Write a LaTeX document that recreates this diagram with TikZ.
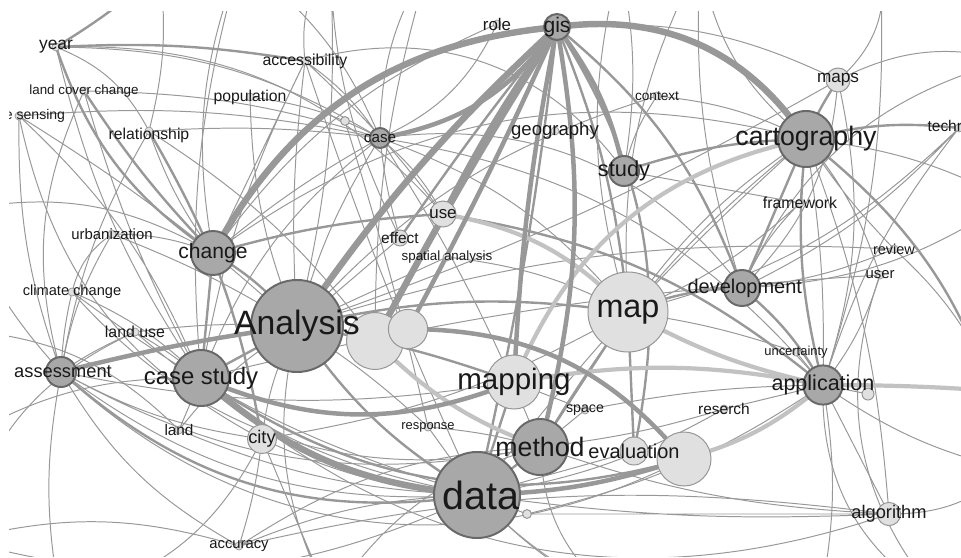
\documentclass[tikz,border=0pt]{standalone}
\usepackage{fontspec}
\setmainfont{Liberation Sans}
\usetikzlibrary{backgrounds}

\definecolor{edgegray}{RGB}{152,152,152}
\definecolor{edgelight}{RGB}{194,194,194}
\definecolor{nodedark}{RGB}{168,168,168}
\definecolor{nodelight}{RGB}{224,224,224}
\definecolor{rimdark}{RGB}{105,105,105}
\definecolor{rimlight}{RGB}{150,150,150}
\definecolor{labelcol}{RGB}{25,25,25}

\tikzset{
  dnode/.style={circle, fill=nodedark, draw=rimdark, line width=1.4pt, inner sep=0pt, minimum size=#1},
  lnode/.style={circle, fill=nodelight, draw=rimlight, line width=0.7pt, inner sep=0pt, minimum size=#1},
  spot/.style={circle, fill=nodelight, draw=rimlight, line width=0.5pt, inner sep=0pt, minimum size=0.2cm},
  lbl/.style={font=\fontsize{#1}{#1}\selectfont, text=labelcol, inner sep=0pt},
  wthin/.style={edgegray, line width=0.7pt},
  wmid/.style={edgegray, line width=1.7pt},
  wthick/.style={edgegray, line width=3.2pt},
  wfat/.style={edgegray, line width=4.6pt},
  wpale/.style={edgelight, line width=3pt},
}

\begin{document}
\begin{tikzpicture}[x=0.025cm, y=-0.025cm]
    \useasboundingbox (0,0) rectangle (961,558);
    \clip (9,12) rectangle (961,556);

    % Unlabelled circles first, so that the words lie on top
    \node[lnode=1.42cm] (blobA) at (375,341) {};
    \node[lnode=0.98cm] (blobB) at (408,329) {};
    \node[lnode=1.35cm] (blobD) at (684,459) {};
    \node[lnode=0.3cm] (blobC) at (868,394) {};
    \node[lnode=0.22cm] (blobE) at (527,514) {};
    \node[lnode=0.22cm] (blobF) at (345,121) {};

    % Big keywords
    \node[dnode=2.3cm, label={[lbl=24pt]center:Analysis}] (analysis) at (297,326) {};
    \node[lnode=2cm, label={[lbl=23pt]center:map}] (map) at (628,312) {};
    \node[dnode=2.15cm, label={[lbl=28pt, xshift=0.1cm]center:data}] (data) at (477,495) {};
    \node[lnode=1.35cm, label={[lbl=21pt]center:mapping}] (mapping) at (514,382) {};
    \node[dnode=1.4cm, label={[lbl=19pt]center:method}] (method) at (540,447) {};
    \node[dnode=1.4cm, label={[lbl=19pt]center:cartography}] (carto) at (806,139) {};
    \node[dnode=1.4cm, label={[lbl=17pt]center:case study}] (casest) at (201,378) {};
    \node[dnode=1.1cm, label={[lbl=15pt]center:change}] (change) at (213,253) {};
    \node[dnode=0.9cm, label={[lbl=14.2pt, xshift=0.07cm]center:development}] (devel) at (742,288) {};
    \node[dnode=0.98cm, label={[lbl=15.3pt]center:application}] (appl) at (823,385) {};
    \node[dnode=0.75cm, label={[lbl=13pt, xshift=0.05cm]center:assessment}] (assess) at (61,372) {};
    \node[dnode=0.75cm, label={[lbl=15.5pt]center:study}] (study) at (624,171) {};
    \node[dnode=0.65cm, label={[lbl=15pt]center:gis}] (gis) at (557,27) {};
    \node[dnode=0.5cm, label={[lbl=10.8pt]center:case}] (case) at (380,138) {};
    \node[lnode=0.7cm, label={[lbl=14.2pt]center:evaluation}] (evalu) at (634,451) {};
    \node[lnode=0.65cm, label={[lbl=12pt]center:use}] (use) at (443,214) {};
    \node[lnode=0.72cm, label={[lbl=13pt]center:city}] (city) at (262,439) {};
    \node[lnode=0.6cm, label={[lbl=12.2pt]center:maps}] (maps) at (838,80) {};
    \node[lnode=0.58cm, label={[lbl=13pt]center:algorithm}] (algo) at (889,514) {};
    \node[lnode=0.4cm, label={[lbl=11pt]center:effect}] (effect) at (400,238) {};

    % Small keywords
    \node[spot, label={[lbl=11.3pt]center:accessibility}] (access) at (305,61) {};
    \node[spot, label={[lbl=12.4pt]center:year}] (year) at (56,47) {};
    \node[spot, label={[lbl=9.5pt]center:land cover change}] (lcc) at (84,91) {};
    \node[spot, label={[lbl=10pt, xshift=-0.05cm]center:remote sensing}] (rsens) at (19,116) {};
    \node[spot, label={[lbl=11.2pt]center:population}] (popul) at (250,97) {};
    \node[spot, label={[lbl=11.2pt, yshift=-0.12cm]center:relationship}] (relat) at (149,131) {};
    \node[spot, label={[lbl=13.2pt]center:geography}] (geog) at (555,131) {};
    \node[spot, label={[lbl=9.7pt]center:context}] (context) at (657,96) {};
    \node[spot, label={[lbl=11pt, xshift=0.15cm]center:technology}] (techn) at (959,128) {};
    \node[spot, label={[lbl=11.3pt]center:framework}] (framew) at (800,203) {};
    \node[spot, label={[lbl=9.5pt]center:spatial analysis}] (spana) at (447,257) {};
    \node[spot, label={[lbl=10.6pt]center:urbanization}] (urban) at (112,234) {};
    \node[spot, label={[lbl=10.3pt]center:review}] (review) at (894,249) {};
    \node[spot, label={[lbl=10.6pt]center:user}] (user) at (880,275) {};
    \node[spot, label={[lbl=10.4pt]center:climate change}] (climate) at (72,292) {};
    \node[spot, label={[lbl=11.3pt]center:land use}] (landuse) at (135,332) {};
    \node[spot, label={[lbl=9.2pt]center:uncertainty}] (uncert) at (796,352) {};
    \node[spot, label={[lbl=10.1pt]center:space}] (space) at (585,410) {};
    \node[spot, label={[lbl=11pt]center:reserch}] (reserch) at (724,409) {};
    \node[spot, label={[lbl=10.9pt]center:land}] (land) at (179,430) {};
    \node[spot, label={[lbl=9.2pt]center:response}] (response) at (428,427) {};
    \node[spot, label={[lbl=10.5pt]center:accuracy}] (accur) at (239,546) {};
    \node[spot, label={[lbl=12pt]center:role}] (role) at (497,24) {};

    % Ends of links running out of the frame
    \coordinate (offN1) at (160,-30);
    \coordinate (offN2) at (240,-40);
    \coordinate (offN3) at (330,-40);
    \coordinate (offN4) at (430,-40);
    \coordinate (offN5) at (700,-40);
    \coordinate (offN6) at (880,-40);
    \coordinate (offN7) at (620,-40);
    \coordinate (offE1) at (1010,200);
    \coordinate (offE2) at (1010,470);
    \coordinate (offE3) at (1010,392);
    \coordinate (offE4) at (1010,60);
    \coordinate (offS1) at (60,600);
    \coordinate (offS2) at (330,600);
    \coordinate (offS3) at (620,600);
    \coordinate (offS4) at (820,600);
    \coordinate (offS5) at (940,600);
    \coordinate (offW1) at (-40,210);
    \coordinate (offW2) at (-40,440);
    \coordinate (offW3) at (-40,540);
    \coordinate (offW4) at (-40,330);

    \begin{pgfonlayer}{background}
    \clip (9,12) rectangle (961,556);

    % Thin links
    \draw[wthin] (year.center) to[bend left=20] (relat.center) (year.center) to[bend right=10] (casest.center)
        (year.center) to[bend left=15] (case.center) (rsens.center) to[bend right=10] (assess.center)
        (rsens.center) to[bend left=12] (casest.center) (rsens.center) to[bend left=8] (case.center)
        (rsens.center) to[bend left=5] (analysis.center) (lcc.center) to[bend left=8] (case.center)
        (lcc.center) to[bend right=6] (casest.center) (lcc.center) to[bend right=20] (assess.center);
    \draw[wthin] (access.center) to[bend left=10] (case.center) (access.center) to[bend right=8] (casest.center)
        (access.center) to[bend left=5] (use.center) (access.center) to[bend right=5] (analysis.center)
        (access.center) to[bend right=3] (data.center) (access.center) to (change.center)
        (access.center) to[bend left=20] (offN3) (popul.center) to[bend left=10] (case.center)
        (popul.center) to[bend right=10] (analysis.center) (relat.center) to[bend left=5] (case.center)
        (relat.center) to[bend right=8] (change.center) (relat.center) to[bend right=10] (assess.center)
        (relat.center) to[bend left=10] (blobA.center);
    \draw[wthin] (case.center) to[bend left=10] (use.center) (case.center) to[bend right=5] (effect.center)
        (case.center) to[bend right=8] (analysis.center) (case.center) to[bend right=15] (casest.center)
        (case.center) to[bend right=5] (change.center) (case.center) to[bend left=15] (map.center)
        (case.center) to[bend left=20] (appl.center) (case.center) to[bend left=5] (method.center)
        (case.center) to[bend left=15] (offN4) (blobF.center) to[bend left=2] (response.center)
        (role.center) to[bend right=15] (change.center) (role.center) to[bend left=20] (case.center);
    \draw[wthin] (context.center) to[bend right=10] (study.center) (context.center) to[bend left=10] (carto.center)
        (context.center) to[bend right=15] (analysis.center) (maps.center) to[bend right=15] (gis.center)
        (maps.center) to[bend left=5] (analysis.center) (maps.center) to[bend left=20] (devel.center)
        (maps.center) to[bend left=15] (appl.center) (maps.center) to[bend right=30] (offN6);
    \draw[wthin] (carto.center) to (framew.center) (carto.center) to[bend left=5] (appl.center)
        (carto.center) to[bend left=8] (algo.center) (carto.center) to[bend right=5] (review.center)
        (carto.center) to[bend left=10] (user.center) (carto.center) to[bend right=10] (map.center)
        (carto.center) to[bend right=10] (method.center) (carto.center) to[bend right=5] (data.center)
        (carto.center) to[bend left=10] (offE1) (carto.center) to[bend left=20] (offN5)
        (techn.center) to[bend left=10] (devel.center) (techn.center) to[bend right=10] (appl.center)
        (techn.center) to[bend left=15] (map.center) (framew.center) to[bend right=10] (devel.center)
        (framew.center) to[bend left=10] (map.center) (framew.center) to (study.center)
        (review.center) to[bend left=8] (devel.center) (review.center) to[bend right=10] (analysis.center)
        (user.center) to[bend left=10] (appl.center) (user.center) to[bend right=5] (casest.center);
    \draw[wthin] (urban.center) to[bend left=10] (change.center) (urban.center) to[bend right=10] (assess.center)
        (urban.center) to[bend left=5] (analysis.center) (urban.center) to[bend right=20] (climate.center)
        (climate.center) to[bend right=5] (assess.center) (climate.center) to[bend left=10] (casest.center)
        (climate.center) to[bend right=10] (data.center) (landuse.center) to[bend right=5] (assess.center)
        (landuse.center) to[bend left=5] (casest.center) (landuse.center) to[bend left=5] (analysis.center)
        (landuse.center) to[bend right=15] (data.center);
    \draw[wthin] (assess.center) to[bend right=20] (data.center) (assess.center) to[bend right=10] (city.center)
        (assess.center) to[bend right=15] (accur.center) (assess.center) to[bend right=10] (mapping.center)
        (assess.center) to[bend right=20] (method.center) (assess.center) to[bend right=10] (offS1)
        (assess.center) to[bend left=10] (offW1) (land.center) to (casest.center)
        (land.center) to[bend right=10] (data.center) (land.center) to[bend left=10] (analysis.center)
        (city.center) to[bend right=10] (data.center) (city.center) to[bend left=5] (accur.center)
        (city.center) to[bend left=10] (analysis.center) (city.center) to[bend right=10] (map.center)
        (accur.center) to[bend left=10] (data.center) (accur.center) to[bend left=15] (method.center)
        (accur.center) to[bend left=10] (algo.center);
    \draw[wthin] (response.center) to (data.center) (response.center) to[bend right=5] (analysis.center)
        (response.center) to[bend left=5] (method.center) (space.center) to (mapping.center)
        (space.center) to (method.center) (space.center) to[bend left=5] (appl.center)
        (reserch.center) to (appl.center) (reserch.center) to[bend left=5] (method.center)
        (reserch.center) to[bend left=10] (data.center) (uncert.center) to (appl.center)
        (uncert.center) to[bend right=5] (map.center) (algo.center) to (appl.center)
        (algo.center) to[bend left=5] (data.center) (algo.center) to[bend left=8] (method.center)
        (algo.center) to (blobE.center) (blobE.center) to (data.center)
        (blobE.center) to[bend right=10] (appl.center) (evalu.center) to (data.center)
        (evalu.center) to (map.center) (blobC.center) to (appl.center)
        (effect.center) to (analysis.center) (spana.center) to (analysis.center)
        (spana.center) to[bend left=10] (map.center);
    \draw[wthin] (analysis.center) to[bend right=20] (offS2) (data.center) to[bend right=10] (offS3)
        (appl.center) to[bend left=10] (offS4) (appl.center) to[bend right=10] (offE2)
        (casest.center) to[bend right=15] (offW2) (change.center) to[bend left=15] (offN2)
        (change.center) to[bend right=20] (offW1) (method.center) to[bend right=20] (offS2)
        (map.center) to[bend left=15] (offN5) (devel.center) to[bend right=15] (offE1)
        (data.center) to[bend left=20] (offW3) (city.center) to (offS2);
    % long arcs across the frame
    \draw[wthin] (assess.center) to[bend right=35] (blobD.center) (casest.center) to[bend right=30] (algo.center)
        (climate.center) to[bend right=30] (method.center) (rsens.center) to[bend right=25] (city.center)
        (change.center) to[bend left=25] (carto.center) (case.center) to[bend left=30] (devel.center)
        (access.center) to[bend left=35] (study.center) (year.center) to[bend left=25] (use.center)
        (appl.center) to[bend right=30] (offS5) (algo.center) to[bend right=20] (offE2)
        (devel.center) to[bend left=25] (offE4) (maps.center) to[bend left=20] (offE4)
        (user.center) to[bend right=30] (offS5) (review.center) to[bend left=20] (offE2)
        (land.center) to[bend right=20] (offW4) (landuse.center) to[bend right=25] (offW3)
        (accur.center) to[bend right=15] (offW3) (city.center) to[bend left=25] (offS1)
        (data.center) to[bend right=30] (offS4) (method.center) to[bend right=25] (offS3);
    % links from above the frame
    \draw[wthin] (offN1) to[bend left=10] (relat.center) (offN2) to[bend right=10] (casest.center)
        (offN3) to[bend left=8] (analysis.center) (offN4) to[bend right=8] (blobA.center)
        (offN2) to[bend left=15] (case.center) (offN3) to[bend right=12] (effect.center)
        (offN7) to[bend left=10] (study.center) (offN7) to[bend right=15] (map.center)
        (offN5) to[bend right=10] (devel.center) (offN6) to[bend left=10] (appl.center);

    % Medium links
    \draw[wmid] (change.center) to[bend left=10] (analysis.center);
    \draw[wmid] (casest.center) to (analysis.center);
    \draw[wmid] (change.center) to (casest.center);
    \draw[wmid] (analysis.center) to[bend left=5] (mapping.center);
    \draw[wmid] (method.center) to (data.center);
    \draw[wmid] (mapping.center) to (data.center);
    \draw[wmid] (map.center) to (method.center);
    \draw[wmid] (map.center) to (evalu.center);
    \draw[wmid] (devel.center) to (carto.center);
    \draw[wmid] (carto.center) to[bend right=10] (appl.center);
    \draw[wmid] (gis.center) to[bend left=22] (evalu.center);
    \draw[wmid] (gis.center) to[bend right=2] (effect.center);
    \draw[wmid] (gis.center) to[bend left=3] (data.center);
    \draw[wmid] (gis.center) to[bend left=15] (devel.center);
    \draw[wmid] (gis.center) to[bend left=8] (map.center);
    \draw[wmid] (analysis.center) to[bend right=12] (data.center);
    \draw[wmid] (devel.center) to[bend left=10] (appl.center);
    \draw[wmid] (map.center) to[bend left=10] (devel.center);
    \draw[wmid] (study.center) to[bend left=8] (carto.center);
    \draw[wmid] (change.center) to[bend left=6] (use.center);
    \draw[wmid] (year.center) to[bend right=18] (change.center);
    \draw[wmid] (year.center) to[bend left=6] (access.center);
    \draw[wmid] (year.center) to[bend right=5] (offN1);
    \draw[wmid] (lcc.center) to[bend right=5] (change.center);
    \draw[wmid] (relat.center) to[bend left=10] (city.center);
    \draw[wmid] (analysis.center) to[bend left=10] (map.center);
    \draw[wmid] (use.center) to[bend left=15] (appl.center);
    \draw[wmid] (carto.center) to[bend left=10] (techn.center);
    \draw[wmid] (carto.center) to[bend left=5] (maps.center);
    \draw[wmid] (casest.center) to[bend right=25] (blobD.center);
    \draw[wmid] (assess.center) to[bend right=25] (data.center);
    \draw[wmid] (carto.center) to[bend left=20] (offE2);

    % Pale links
    \draw[wpale] (mapping.center) to[bend left=28] (carto.center);
    \draw[wpale] (map.center) to[bend right=8] (appl.center);
    \draw[wpale] (appl.center) to[bend left=2] (offE3);
    \draw[wpale] (mapping.center) to[bend left=10] (appl.center);
    \draw[wpale] (blobD.center) to[bend right=12] (appl.center);
    \draw[wpale] (blobA.center) to[bend right=12] (method.center);
    \draw[wpale] (use.center) to[bend left=18] (map.center);

    % Heavy links
    \draw[wfat] (gis.center) to[bend right=6] (analysis.center);
    \draw[wfat] (gis.center) to[bend right=2] (blobA.center);
    \draw[wthick] (gis.center) to[bend left=2] (blobB.center);
    \draw[wfat] (change.center) to[bend left=28] (gis.center);
    \draw[wfat] (gis.center) to[bend left=32] (carto.center);
    \draw[wthick] (case.center) to[bend right=22] (gis.center);
    \draw[wthick] (gis.center) to[bend left=12] (study.center);
    \draw[wthick] (gis.center) to[bend left=12] (method.center);
    \draw[wthick] (gis.center) to[bend right=4] (mapping.center);
    \draw[wthick] (gis.center) to[bend right=4] (use.center);
    \draw[wthick] (blobB.center) to[bend left=25] (blobD.center);
    \draw[wthick] (casest.center) to[bend right=22] (mapping.center);
    \draw[wfat] (casest.center) to[bend right=18] (data.center);
    \draw[wthick] (assess.center) to[bend left=3] (analysis.center);
    \draw[wthick] (data.center) to[bend right=8] (blobD.center);
    \end{pgfonlayer}
\end{tikzpicture}
\end{document}
